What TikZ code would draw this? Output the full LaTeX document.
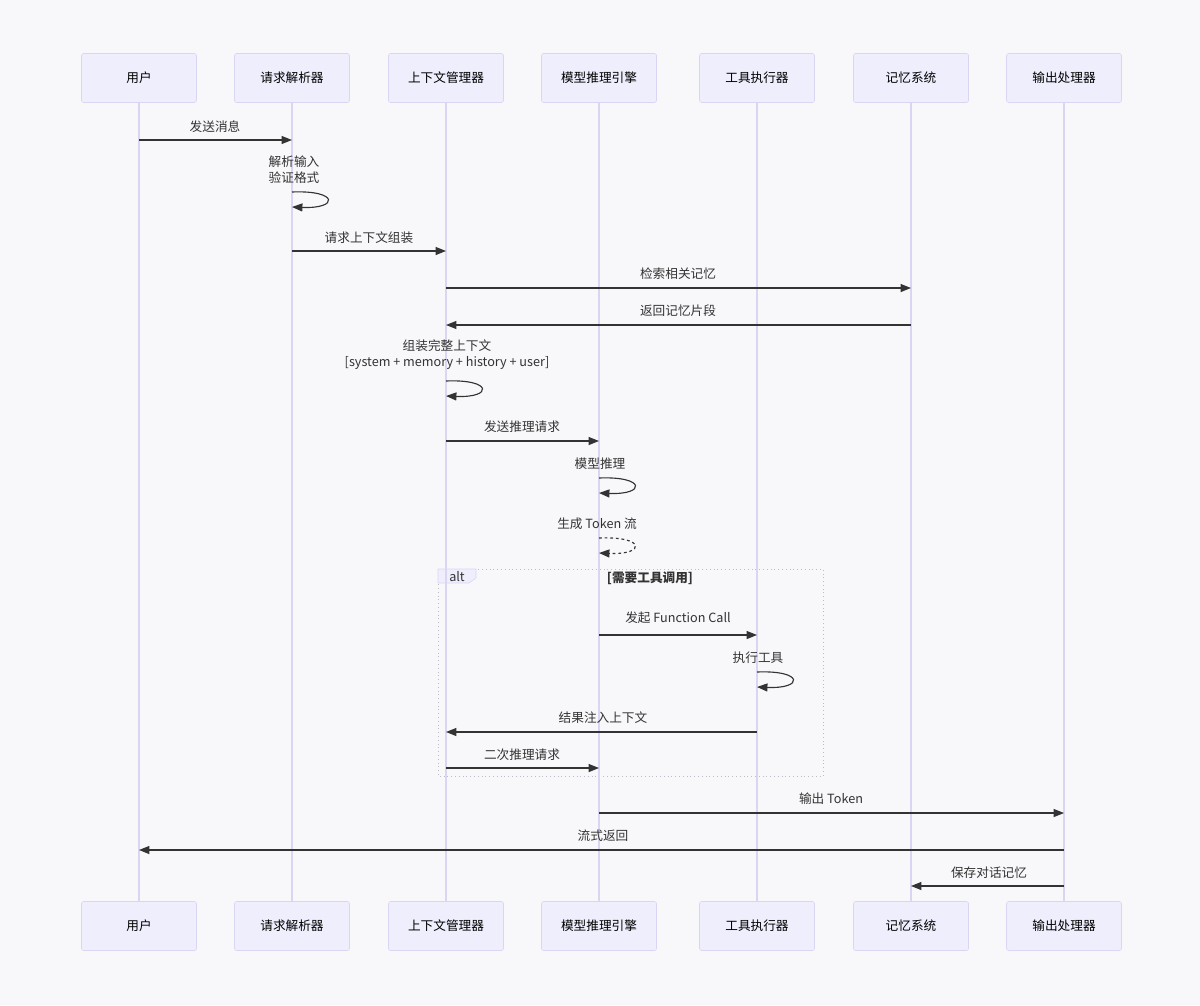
\documentclass[tikz,border=0pt]{standalone}
\usepackage{fontspec}
\setmainfont{Noto Sans CJK SC}
\usepackage{tikz}
\usetikzlibrary{arrows.meta}
\definecolor{bgcol}{HTML}{F8F8FA}
\definecolor{actfill}{HTML}{EEEEFD}
\definecolor{actline}{HTML}{DAD5F2}
\definecolor{msgcol}{HTML}{333333}
\definecolor{altline}{HTML}{BDBDC8}
\tikzset{actor/.style={draw=actline, fill=actfill, rounded corners=1.5pt, minimum width=115*0.025cm, minimum height=49*0.025cm, font=\fontsize{9}{11.5}\selectfont, text=black}}
\tikzset{life/.style={draw=actline, line width=0.9pt}}
\tikzset{msg/.style={draw=msgcol, line width=0.8pt, -{Triangle[length=0.26cm, width=0.2cm]}}}
\tikzset{lbl/.style={font=\fontsize{9}{11.5}\selectfont, text=msgcol, inner sep=0pt, align=center}}

\begin{document}
\begin{tikzpicture}[x=0.025cm, y=-0.025cm]

    \useasboundingbox[fill=bgcol] (0,0) rectangle (1200,1005);

    % actors, top row
    \node[actor] (uT) at (139, 78) {用户};
    \node[actor] (pT) at (292, 78) {请求解析器};
    \node[actor] (cT) at (446, 78) {上下文管理器};
    \node[actor] (mT) at (599, 78) {模型推理引擎};
    \node[actor] (tT) at (757, 78) {工具执行器};
    \node[actor] (rT) at (911, 78) {记忆系统};
    \node[actor] (oT) at (1064, 78) {输出处理器};

    % actors, bottom row
    \node[actor] (uB) at (139, 926) {用户};
    \node[actor] (pB) at (292, 926) {请求解析器};
    \node[actor] (cB) at (446, 926) {上下文管理器};
    \node[actor] (mB) at (599, 926) {模型推理引擎};
    \node[actor] (tB) at (757, 926) {工具执行器};
    \node[actor] (rB) at (911, 926) {记忆系统};
    \node[actor] (oB) at (1064, 926) {输出处理器};

    % alt frame
    \draw[altline, dotted, line width=0.7pt] (438,569) rectangle (823,776);
    \draw[draw=actline, fill=actfill] (438,569) -- (476,569) -- (476,578) -- (469,583) -- (438,583) -- cycle;
    \node[lbl] (altT) at (457,577) {alt};
    \node[lbl, font=\fontsize{9}{11.5}\selectfont\bfseries] (altC) at (650,578) {[需要工具调用]};

    % lifelines
    \draw[life] (uT.south) -- (uB.north);
    \draw[life] (pT.south) -- (pB.north);
    \draw[life] (cT.south) -- (cB.north);
    \draw[life] (mT.south) -- (mB.north);
    \draw[life] (tT.south) -- (tB.north);
    \draw[life] (rT.south) -- (rB.north);
    \draw[life] (oT.south) -- (oB.north);

    % messages
    \draw[msg] (uT.south |- 0,140) -- (pT.south |- 0,140);
    \node[lbl] at (215,127) {发送消息};

    \node[lbl] at (294,170) {解析输入\\验证格式};
    \draw[msg] (pT.south |- 0,192) .. controls (339,190) and (339,209) .. (pT.south |- 0,207);

    \draw[msg] (pT.south |- 0,251) -- (cT.south |- 0,251);
    \node[lbl] at (369,238) {请求上下文组装};

    \draw[msg] (cT.south |- 0,288) -- (rT.south |- 0,288);
    \node[lbl] at (678,274) {检索相关记忆};

    \draw[msg] (rT.south |- 0,325) -- (cT.south |- 0,325);
    \node[lbl] at (678,311) {返回记忆片段};

    \node[lbl] at (447,355) {组装完整上下文\\{[system + memory + history + user]}};
    \draw[msg] (cT.south |- 0,381) .. controls (493,379) and (493,398) .. (cT.south |- 0,396);

    \draw[msg] (cT.south |- 0,441) -- (mT.south |- 0,441);
    \node[lbl] at (522,427) {发送推理请求};

    \node[lbl] at (600,464) {模型推理};
    \draw[msg] (mT.south |- 0,478) .. controls (646,476) and (646,495) .. (mT.south |- 0,493);

    \node[lbl] at (597,524) {生成 Token 流};
    \draw[msg, dashed, dash pattern=on 2pt off 2pt] (mT.south |- 0,538) .. controls (646,536) and (646,555) .. (mT.south |- 0,553);

    \draw[msg] (mT.south |- 0,635) -- (tT.south |- 0,635);
    \node[lbl] at (678,618) {发起 Function Call};

    \node[lbl] at (758,658) {执行工具};
    \draw[msg] (tT.south |- 0,672) .. controls (804,670) and (804,689) .. (tT.south |- 0,687);

    \draw[msg] (tT.south |- 0,732) -- (cT.south |- 0,732);
    \node[lbl] at (603,718) {结果注入上下文};

    \draw[msg] (cT.south |- 0,768) -- (mT.south |- 0,768);
    \node[lbl] at (522,755) {二次推理请求};

    \draw[msg] (mT.south |- 0,813) -- (oT.south |- 0,813);
    \node[lbl] at (831,799) {输出 Token};

    \draw[msg] (oT.south |- 0,850) -- (uT.south |- 0,850);
    \node[lbl] at (603,836) {流式返回};

    \draw[msg] (oT.south |- 0,886) -- (rT.south |- 0,886);
    \node[lbl] at (989,873) {保存对话记忆};

\end{tikzpicture}
\end{document}
